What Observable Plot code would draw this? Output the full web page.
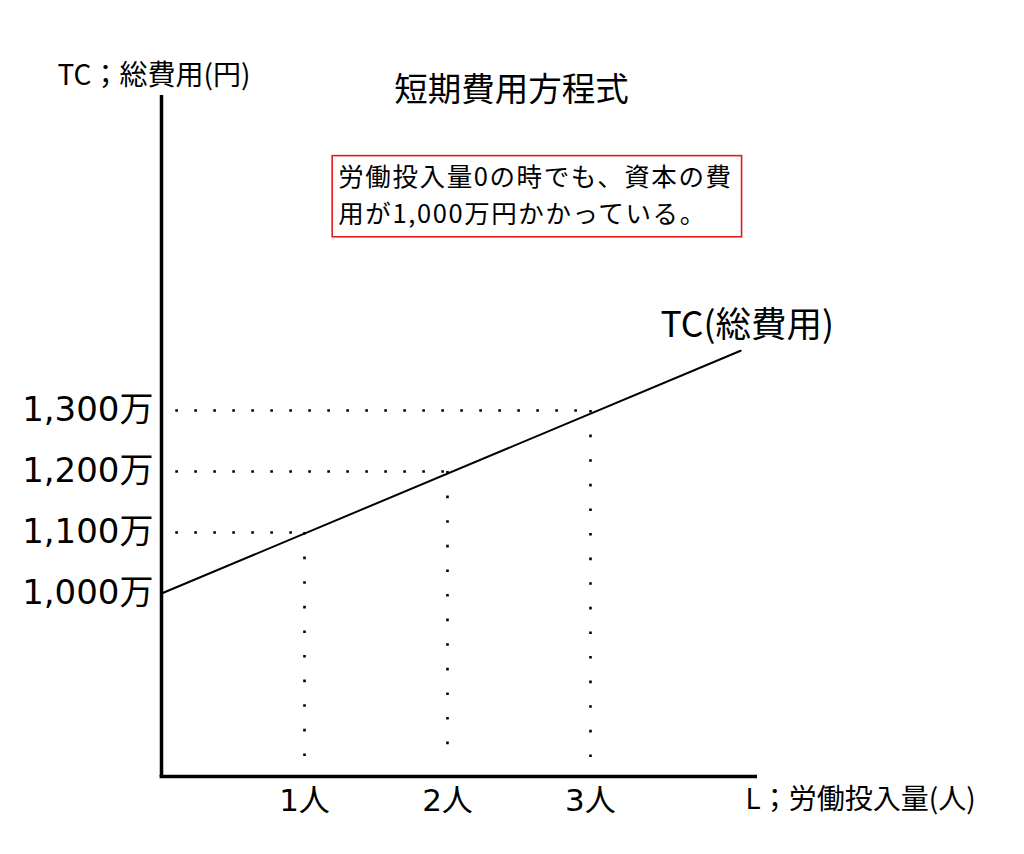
<!DOCTYPE html>
<html>
<head>
<meta charset="utf-8">
<script src="https://cdn.jsdelivr.net/npm/d3@7"></script>
<script src="https://cdn.jsdelivr.net/npm/@observablehq/plot@0.6"></script>
<style>
  html, body { margin: 0; padding: 0; background: #fff; }
  #chart svg { display: block; }
  #chart svg g.note text { letter-spacing: 1.6px; }
</style>
</head>
<body>
<div id="chart"></div>
<script>
// ---- data ----
const labor = [1, 2, 3];                       // L (人)
const laborLabels = ["1人", "2人", "3人"];
const cost = [1100, 1200, 1300];              // TC at L = 1,2,3 (万円)
const yTicks = [1000, 1100, 1200, 1300];
const yTickLabels = ["1,000万", "1,100万", "1,200万", "1,300万"];
const lineL = [0, 4.05];
const lineTC = [1000, 1398];

const title = "短期費用方程式";
const yLabel = "TC；総費用(円)";
const xLabel = "L；労働投入量(人)";
const seriesLabel = "TC(総費用)";
const noteLines = ["労働投入量0の時でも、資本の費", "用が1,000万円かかっている。"];

const FONT = "'DejaVu Sans', 'Noto Sans CJK JP', sans-serif";
const CJK = "'Noto Sans CJK JP', 'Noto Sans', sans-serif";

const linePts = lineL.map((l, i) => ({L: l, TC: lineTC[i]}));
const refPts = labor.map((l, i) => ({L: l, TC: cost[i], label: laborLabels[i]}));
const yTickPts = yTicks.map((v, i) => ({v, label: yTickLabels[i]}));

const plot = Plot.plot({
  width: 1024,
  height: 854,
  marginLeft: 161,
  marginRight: 267,
  marginTop: 95,
  marginBottom: 78,
  x: {domain: [0, 4.168], axis: null},
  y: {domain: [700, 1816.4], axis: null},
  style: {background: "#fff", overflow: "visible"},
  marks: [
    // dotted guides
    Plot.ruleY(refPts, {y: "TC", x1: 0.1, x2: "L", stroke: "#000", strokeWidth: 2.6, strokeDasharray: "2.6,16.4"}),
    Plot.ruleX(refPts, {x: "L", y1: "TC", y2: 731, stroke: "#000", strokeWidth: 2.6, strokeDasharray: "2.6,22"}),
    // TC line
    Plot.line(linePts, {x: "L", y: "TC", stroke: "#000", strokeWidth: 2}),
    // axes
    Plot.ruleX([0], {y1: 700, y2: 1816.4, stroke: "#000", strokeWidth: 3.5}),
    Plot.ruleY([700], {x1: -0.01, x2: 4.168, stroke: "#000", strokeWidth: 3.5}),
    // y tick labels
    Plot.text(yTickPts, {x: 0, y: "v", text: "label", textAnchor: "end", dx: -8, fontSize: 34, fontFamily: FONT, fill: "#000"}),
    // x tick labels
    Plot.text(refPts, {x: "L", y: 700, text: "label", dy: 25, fontSize: 31, fontFamily: FONT, fill: "#000"}),
    // axis titles
    Plot.text([yLabel], {x: -0.727, y: 1849, text: d => d, textAnchor: "start", fontSize: 28, fontFamily: CJK, fill: "#000"}),
    Plot.text([xLabel], {x: 4.084, y: 660.7, text: d => d, textAnchor: "start", fontSize: 28, fontFamily: CJK, fill: "#000"}),
    // title
    Plot.text([title], {x: 2.448, y: 1824.6, text: d => d, fontSize: 33.5, fontFamily: CJK, fill: "#000"}),
    // series label
    Plot.text([seriesLabel], {x: 3.49, y: 1439, text: d => d, textAnchor: "start", fontSize: 35.5, fontFamily: CJK, fill: "#000"}),
    // note box
    Plot.rect([0], {x1: 1.197, x2: 4.060, y1: 1584, y2: 1717, fill: "#fff", stroke: "#e21b1b", strokeWidth: 1.6}),
    Plot.text(noteLines, {x: 1.236, y: (d, i) => [1681.1, 1620.5][i], text: d => d, textAnchor: "start", fontSize: 25.5, fontFamily: CJK, fill: "#000", className: "note"})
  ]
});
document.getElementById("chart").appendChild(plot);
</script>
</body>
</html>
